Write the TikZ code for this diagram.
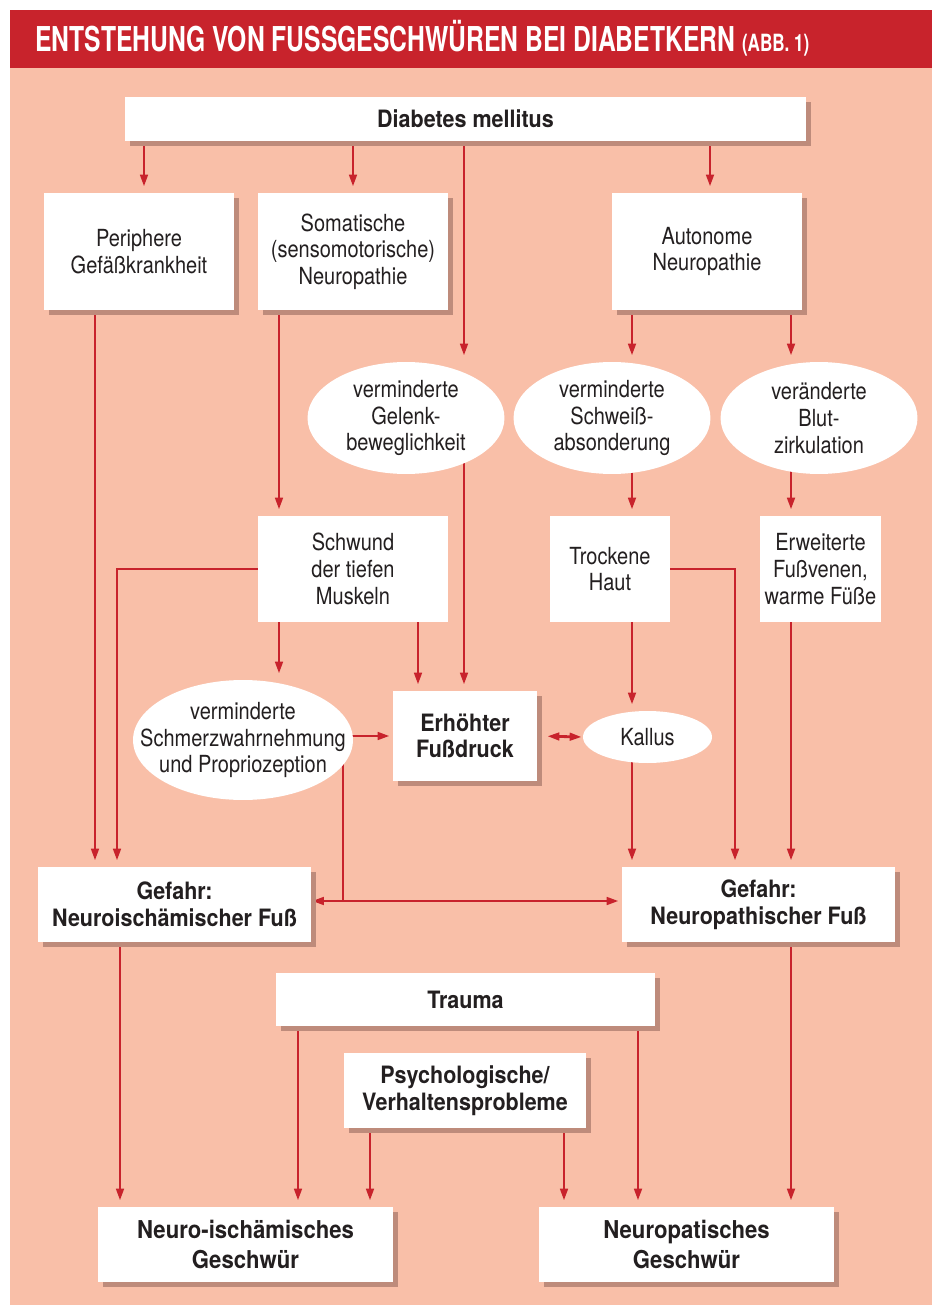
\documentclass[tikz,border=0pt]{standalone}
\usepackage{fontspec}
\setmainfont{TeX Gyre Heros}[FakeStretch=0.85]
\newfontfamily\bfont{TeX Gyre Heros}[FakeStretch=0.9]
\newfontfamily\hfont{TeX Gyre Heros}[FakeStretch=0.72]
\usetikzlibrary{shapes.geometric}
\usetikzlibrary{arrows.meta}
\usetikzlibrary{shadows}
\usetikzlibrary{backgrounds}
\definecolor{rot}{HTML}{C8232C}
\definecolor{lachs}{HTML}{F9BFA8}
\definecolor{schatten}{HTML}{BE8B7B}
\definecolor{tinte}{HTML}{231F20}
\tikzset{t/.style={font=\fontsize{13.4}{15.2}\selectfont}}
\tikzset{tb/.style={font=\bfont\bfseries\fontsize{13.6}{15.2}\selectfont}}
\tikzset{bx/.style={rectangle,fill=white,text=tinte,align=center,inner sep=0pt}}
\tikzset{sbx/.style={bx,drop shadow={shadow xshift=1mm,shadow yshift=-1mm,fill=schatten,opacity=1}}}
\tikzset{ov/.style={ellipse,fill=white,text=tinte,align=center,inner xsep=-1.2cm,inner ysep=-0.6cm}}
\tikzset{ar/.style={draw=rot,line width=1.6pt,-{Triangle[length=2.4mm,width=1.5mm]},shorten >=1.2mm}}
\tikzset{ln/.style={draw=rot,line width=1.6pt}}

\begin{document}
\begin{tikzpicture}[x=0.02cm,y=-0.02cm]
  \useasboundingbox (0,0) rectangle (934,1310);
  \node[anchor=base west,inner sep=0pt,text=white,font=\hfont\bfseries\fontsize{19.5}{19.5}\selectfont] (titel) at (35,52)
    {ENTSTEHUNG VON FUSSGESCHWÜREN BEI DIABETKERN {\fontsize{13.5}{13.5}\selectfont(ABB.~1)}};

  % obere Reihe
  \node[sbx,tb,minimum width=13.62cm,minimum height=0.88cm] (diab) at (465.5,119) {Diabetes mellitus};
  \node[sbx,t,minimum width=3.8cm,minimum height=2.34cm] (per) at (139,251.5) {Periphere\\Gefäßkrankheit};
  \node[sbx,t,minimum width=3.8cm,minimum height=2.34cm] (som) at (353,251.5) {Somatische\\(sensomotorische)\\Neuropathie};
  \node[sbx,t,minimum width=3.8cm,minimum height=2.34cm] (aut) at (707,251.5) {Autonome\\Neuropathie};

  \node[ov,t,minimum width=3.94cm,minimum height=2.24cm] (gel) at (406,418) {verminderte\\Gelenk-\\beweglichkeit};
  \node[ov,t,minimum width=3.94cm,minimum height=2.24cm] (schw) at (612,418) {verminderte\\Schweiß-\\absonderung};
  \node[ov,t,minimum width=3.94cm,minimum height=2.24cm] (blut) at (819,418) {veränderte\\Blut-\\zirkulation};

  \node[bx,t,minimum width=3.8cm,minimum height=2.12cm] (musk) at (353,569) {Schwund\\der tiefen\\Muskeln};
  \node[bx,t,minimum width=2.4cm,minimum height=2.12cm] (haut) at (610,569) {Trockene\\Haut};
  \node[bx,t,minimum width=2.42cm,minimum height=2.12cm] (venen) at (820.5,569) {Erweiterte\\Fußvenen,\\warme Füße};

  \node[ov,t,minimum width=4.4cm,minimum height=2.4cm] (schmerz) at (243,740) {verminderte\\Schmerzwahrnehmung\\und Propriozeption};
  \node[sbx,tb,minimum width=2.88cm,minimum height=1.8cm] (druck) at (465,736) {Erhöhter\\Fußdruck};
  \node[ov,t,minimum width=2.58cm,minimum height=1.04cm] (kallus) at (647.5,737) {Kallus};

  \node[sbx,tb,minimum width=5.46cm,minimum height=1.5cm] (gefni) at (174.5,904.5) {Gefahr:\\Neuroischämischer Fuß};
  \node[sbx,tb,minimum width=5.46cm,minimum height=1.5cm] (gefnp) at (758.5,904.5) {Gefahr:\\Neuropathischer Fuß};

  \node[sbx,tb,minimum width=7.58cm,minimum height=1.06cm] (trauma) at (465.5,999.5) {Trauma};
  \node[sbx,tb,minimum width=4.84cm,minimum height=1.5cm] (psych) at (465,1090.5) {Psychologische/\\Verhaltensprobleme};

  \node[sbx,tb,font=\bfont\bfseries\fontsize{14}{17}\selectfont,minimum width=5.9cm,minimum height=1.5cm] (gni) at (245.5,1244.5) {Neuro-ischämisches\\Geschwür};
  \node[sbx,tb,font=\bfont\bfseries\fontsize{14}{17}\selectfont,minimum width=5.9cm,minimum height=1.5cm] (gnp) at (686.5,1244.5) {Neuropatisches\\Geschwür};

  \coordinate (split) at (343,901);

  \begin{scope}[on background layer]
    \fill[lachs] (10,68) rectangle (932,1305);
    \fill[rot] (10,10) rectangle (932,68);

    % von Diabetes
    \draw[ar] (diab.south -| 144,0) -- (per.north -| 144,0);
    \draw[ar] (diab.south -| som.north) -- (som.north);
    \draw[ar] (diab.south -| 464,0) -- (gel.north -| 464,0);
    \draw[ar] (diab.south -| 710,0) -- (aut.north -| 710,0);

    % Neuropathien
    \draw[ar] (per.south -| 95,0) -- (gefni.north -| 95,0);
    \draw[ar] (som.south -| 279,0) -- (musk.north -| 279,0);
    \draw[ar] (aut.south -| 632,0) -- (schw.north -| 632,0);
    \draw[ar] (aut.south -| 791,0) -- (blut.north -| 791,0);
    \draw[ar] (gel.center -| 464,0) -- (druck.north -| 464,0);
    \draw[ar] (schw.center -| 632,0) -- (haut.north -| 632,0);
    \draw[ar] (blut.center -| 791,0) -- (venen.north -| 791,0);

    % mittlere Reihe
    \draw[ar] (musk.west) -| (gefni.north -| 117,0);
    \draw[ar] (musk.south -| 279,0) -- (schmerz.north -| 279,0);
    \draw[ar] (musk.south -| 418,0) -- (druck.north -| 418,0);
    \draw[ar,shorten >=0.6mm] (schmerz.center |- druck.west) -- (druck.west);
    \draw[ar,{Triangle[length=2.4mm,width=1.5mm]}-{Triangle[length=2.4mm,width=1.5mm]},shorten <=2mm,shorten >=0.2mm] (druck.east) -- (kallus.west);
    \draw[ar] (haut.south -| 632,0) -- (kallus.north -| 632,0);
    \draw[ar] (haut.east) -| (gefnp.north -| 735,0);
    \draw[ar] (kallus.center -| 632,0) -- (gefnp.north -| 632,0);
    \draw[ar] (venen.south -| 791,0) -- (gefnp.north -| 791,0);
    \draw[ln] (schmerz.center -| split) -- (split);
    \draw[ar,shorten >=0.1mm] (split) -- (gefni.east |- split);
    \draw[ar,shorten >=0.6mm] (split) -- (gefnp.west |- split);

    % Geschwüre
    \draw[ar] (gefni.south -| 120,0) -- (gni.north -| 120,0);
    \draw[ar] (gefnp.south -| 791,0) -- (gnp.north -| 791,0);
    \draw[ar] (trauma.south -| 298,0) -- (gni.north -| 298,0);
    \draw[ar] (trauma.south -| 638,0) -- (gnp.north -| 638,0);
    \draw[ar] (psych.south -| 370,0) -- (gni.north -| 370,0);
    \draw[ar] (psych.south -| 564,0) -- (gnp.north -| 564,0);
  \end{scope}
\end{tikzpicture}
\end{document}
